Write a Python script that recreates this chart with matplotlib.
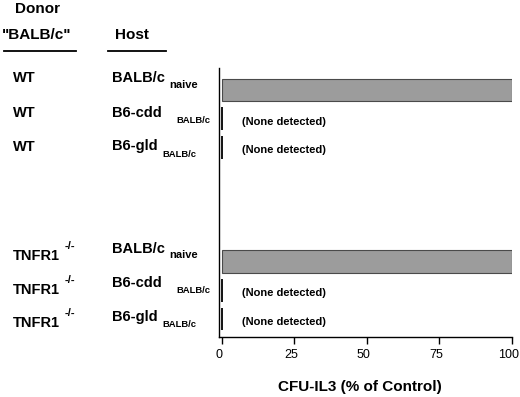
import matplotlib
matplotlib.use("Agg")
import matplotlib.pyplot as plt
from matplotlib.lines import Line2D
from matplotlib.transforms import ScaledTranslation

plt.rcParams['font.family'] = ['Liberation Sans', 'DejaVu Sans']

# ---- data ----
donors = ["WT", "WT", "WT", "TNFR1", "TNFR1", "TNFR1"]
hosts = ["BALB/c", "B6-cdd", "B6-gld", "BALB/c", "B6-cdd", "B6-gld"]
host_subs = ["naive", "BALB/c", "BALB/c", "naive", "BALB/c", "BALB/c"]
cfu_values = [100, 0, 0, 100, 0, 0]
detected = [True, False, False, True, False, False]
xticks = [0, 25, 50, 75, 100]

W, H = 520, 397
fig = plt.figure(figsize=(W / 100, H / 100), dpi=100)

def px(x, y):
    return x / W, 1 - y / H

ax = fig.add_axes([219 / W, 1 - 337 / H, (512 - 219) / W, (337 - 68) / H])

# row positions: two groups of three, separated by gap
ypos = [(i // 3) * 6 + (i % 3) for i in range(len(cfu_values))]

for y, v, d in zip(ypos, cfu_values, detected):
    if d:
        ax.barh(y, v, height=0.8, color='#9c9c9c', edgecolor='#4a4a4a', linewidth=0.8)
    else:
        ax.barh(y, v, height=0.8, color='black', edgecolor='black', linewidth=1.3)
        ax.text(7, y + 0.1, "(None detected)", fontsize=8, fontweight='bold',
                va='center', ha='left')

ax.set_xlim(-1, 100)
ax.set_ylim(8.63, -0.77)
ax.set_yticks([])
ax.set_xticks(xticks)
ax.set_xticklabels([str(t) for t in xticks], fontsize=9)
ax.tick_params(axis='x', length=5, width=1, pad=4)
shift = ScaledTranslation(-3 / 100, 0, fig.dpi_scale_trans)
for lab in ax.get_xticklabels():
    lab.set_transform(lab.get_transform() + shift)
for s in ['top', 'right']:
    ax.spines[s].set_visible(False)
ax.spines['left'].set_linewidth(1)
ax.spines['bottom'].set_linewidth(1)
ax.set_xlabel("CFU-IL3 (% of Control)", fontsize=11, fontweight='bold')
ax.xaxis.set_label_coords((360 - 219) / (512 - 219), -(387 - 337) / (337 - 68))
ax.xaxis.label.set_va('center')

def t(x, y, s, size, **kw):
    fig.text(*px(x, y), s, fontsize=size, fontweight='bold', va='baseline', ha='left', **kw)

# headers
t(15, 13, "Donor", 11)
t(2, 39, "\"BALB/c\"", 11)
t(115, 39, "Host", 11)
fig.add_artist(Line2D([4 / W, 76 / W], [1 - 51 / H] * 2, color='black', lw=1.3))
fig.add_artist(Line2D([108 / W, 166 / W], [1 - 51 / H] * 2, color='black', lw=1.3))

# row labels
base_main = [82, 117, 151, 260, 294, 327]
base_host = [82, 117, 150, 253, 287, 321]
base_sub = [88, 123, 157, 258, 293, 327]
sub_x = {"B6-cdd": 176, "B6-gld": 162, "BALB/c": 169}
for i in range(len(donors)):
    t(13, base_main[i], donors[i], 10.5)
    if donors[i] == "TNFR1":
        t(65, base_main[i] - 11, "-/-", 8)
    t(112, base_host[i], hosts[i], 10.5)
    ssize = 8 if host_subs[i] == "naive" else 6.8
    t(sub_x[hosts[i]], base_sub[i], host_subs[i], ssize)

fig.savefig("out.png", dpi=100)
